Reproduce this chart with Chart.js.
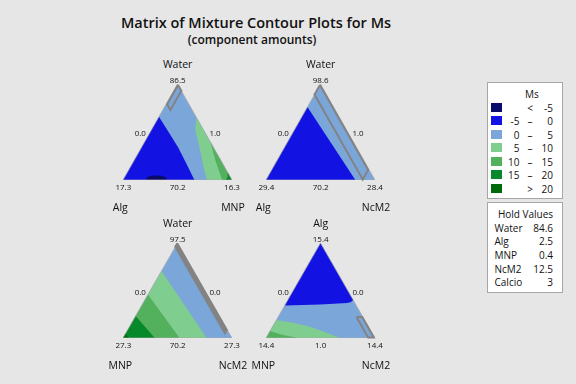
<!DOCTYPE html>
<html lang="en">
<head>
<meta charset="UTF-8">
<title>Matrix of Mixture Contour Plots for Ms</title>
<script src="https://cdn.jsdelivr.net/npm/chart.js"></script>
<style>
  html, body { margin: 0; padding: 0; }
  body { width: 576px; height: 384px; background: #e6e6e6; position: relative; overflow: hidden;
         font-family: 'Open Sans', sans-serif; color: #111; }
  .lbl { position: absolute; transform: translate(-50%, -50%); white-space: nowrap; line-height: 1; }
  .lft { position: absolute; transform: translate(0, -50%); white-space: nowrap; line-height: 1; }
  .rgt { position: absolute; transform: translate(-100%, -50%); white-space: nowrap; line-height: 1; }
  #title { font-size: 14.5px; font-weight: 600; }
  #subtitle { font-size: 12px; font-weight: 600; }
  .name { font-size: 10.5px; }
  .tick { font-size: 8px; }
  .box { position: absolute; background: #fff; border: 1px solid #a6a6a6; box-sizing: border-box; font-size: 10px; }
  .swatch { position: absolute; width: 11px; height: 9px; }
  canvas { position: absolute; }
</style>
</head>
<body>
<div class="lbl" id="title" style="left:256px; top:23px">Matrix of Mixture Contour Plots for Ms</div>
<div class="lbl" id="subtitle" style="left:252px; top:40px">(component amounts)</div>
<div class="box" id="legend" style="left:487px; top:82px; width:76px; height:117px"></div>
<div class="box" id="hold" style="left:487px; top:202px; width:76px; height:91px"></div>

<script>
// Ms classes
const classLow = ['', '-5', '0', '5', '10', '15', ''];
const classSep = ['<', '–', '–', '–', '–', '–', '>'];
const classHigh = ['-5', '0', '5', '10', '15', '20', '20'];
const classColors = ['#0b0b6c', '#1212e3', '#7ba6da', '#80cd90', '#53b15e', '#07892b', '#006a0b'];

// hold values
const holdNames = ['Water', 'Alg', 'MNP', 'NcM2', 'Calcio'];
const holdValues = ['84.6', '2.5', '0.4', '12.5', '3'];

// vertex names and tick labels, one entry per panel
const topNames = ['Water', 'Water', 'Water', 'Alg'];
const leftNames = ['Alg', 'Alg', 'MNP', 'MNP'];
const rightNames = ['MNP', 'NcM2', 'NcM2', 'NcM2'];
const topTicks = ['86.5', '98.6', '97.5', '15.4'];
const leftSideTicks = ['0.0', '0.0', '0.0', '0.0'];
const rightSideTicks = ['1.0', '1.0', '0.0', '0.0'];
const baseLeftTicks = ['17.3', '29.4', '27.3', '14.4'];
const baseMidTicks = ['70.2', '70.2', '70.2', '1.0'];
const baseRightTicks = ['16.3', '28.4', '27.3', '14.4'];

// contour regions, points are [top fraction, right fraction] of each triangle
// panel 1: Water / Alg / MNP
const p1Neg5 = [[0, 0.21], [0.03, 0.21], [0.045, 0.237], [0.048, 0.284], [0.045, 0.332], [0.03, 0.375], [0, 0.406]];
const p1Zero = [[0, 0], [0.66, 0], [0.5, 0.168], [0.34, 0.335], [0.17, 0.497], [0, 0.655]];
const p1Ten = [[0.653, 0.347], [0.515, 0.405], [0.343, 0.53], [0.137, 0.67], [0, 0.77], [0, 1]];
const p1Fifteen = [[0.395, 0.605], [0.206, 0.744], [0, 0.909], [0, 1]];
const p1Twenty = [[0.08, 0.92], [0.03, 0.945], [0, 0.94], [0, 1]];
const p1Box = [[0.99, 0.01], [0.93, 0.07], [0.73, 0.07], [0.79, 0.01], [0.99, 0.01]];
// panel 2: Water / Alg / NcM2
const p2Zero = [[0, 0], [0.76, 0], [0.38, 0.41], [0, 0.82]];
const p2Box = [[0.99, 0], [0.105, 0.885], [0.005, 0.885], [0.89, 0], [0.99, 0]];
// panel 3: Water / MNP / NcM2
const p3Ten = [[0, 0], [0.705, 0], [0, 0.768]];
const p3Fifteen = [[0, 0], [0.458, 0], [0, 0.519]];
const p3Twenty = [[0, 0], [0.232, 0], [0, 0.292]];
const p3Over = [[0, 0], [0.045, 0], [0, 0.05]];
const p3Box = [[0.995, 0], [0.085, 0.91], [0.05, 0.91], [0.96, 0], [0.995, 0]];
// panel 4: Alg / MNP / NcM2
const p4Zero = [[1, 0], [0.342, 0], [0.353, 0.32], [0.368, 0.56], [0.38, 0.59], [0.4, 0.6]];
const p4Ten = [[0, 0], [0.19, 0], [0.161, 0.17], [0.119, 0.344], [0.056, 0.529], [0, 0.679]];
const p4Fifteen = [[0, 0], [0.074, 0], [0.032, 0.14], [0, 0.296]];
const p4Box = [[0.22, 0.72], [0.22, 0.772], [0.005, 0.987], [0.005, 0.935], [0.22, 0.72]];

const wholeTriangle = [[0, 0], [0, 1], [1, 0]];

const panelRegions = [
  [[wholeTriangle, 2], [p1Zero, 1], [p1Neg5, 0], [p1Ten, 3], [p1Fifteen, 4], [p1Twenty, 5]],
  [[wholeTriangle, 2], [p2Zero, 1]],
  [[wholeTriangle, 2], [p3Ten, 3], [p3Fifteen, 4], [p3Twenty, 5], [p3Over, 6]],
  [[wholeTriangle, 2], [p4Zero, 1], [p4Ten, 3], [p4Fifteen, 4]]
];
const panelBoxes = [p1Box, p2Box, p3Box, p4Box];
const boxFilled = [false, false, true, false];

// where each triangle sits on the page
const panels = [
  { x: 123.3, base: 180, w: 108.7, h: 96 },
  { x: 266.3, base: 180, w: 108.7, h: 96 },
  { x: 123.3, base: 338, w: 108.7, h: 95 },
  { x: 266.3, base: 338, w: 108.7, h: 95 }
];
const PAD = 6;

function toPoint(p) {
  return { x: p[1] + p[0] / 2, y: p[0] };
}

function addText(parent, cls, text, left, top, extra) {
  const d = document.createElement('div');
  d.className = cls + (extra ? ' ' + extra : '');
  d.textContent = text;
  d.style.left = left + 'px';
  d.style.top = top + 'px';
  parent.appendChild(d);
  return d;
}

panels.forEach((pn, i) => {
  const canvas = document.createElement('canvas');
  const cw = Math.round(pn.w + 2 * PAD);
  const ch = Math.round(pn.h + 2 * PAD);
  canvas.width = cw;
  canvas.height = ch;
  canvas.style.left = (pn.x - PAD) + 'px';
  canvas.style.top = (pn.base - pn.h - PAD) + 'px';
  document.body.appendChild(canvas);

  const datasets = panelRegions[i].map(([pts, cls]) => ({
    data: pts.map(toPoint),
    showLine: true,
    fill: 'shape',
    backgroundColor: classColors[cls],
    borderWidth: 0,
    pointRadius: 0,
    tension: 0
  }));
  // triangle outline
  datasets.push({
    data: wholeTriangle.concat([wholeTriangle[0]]).map(toPoint),
    showLine: true, fill: false, borderColor: 'rgba(170,170,170,0.7)', borderWidth: 1,
    pointRadius: 0, tension: 0
  });
  // feasible region outline
  datasets.push({
    data: panelBoxes[i].map(toPoint),
    showLine: true,
    fill: boxFilled[i] ? 'shape' : false,
    backgroundColor: '#838383',
    borderColor: '#838383',
    borderWidth: 2,
    borderJoinStyle: 'miter',
    pointRadius: 0,
    tension: 0,
    clip: false
  });
  // first dataset drawn on top in Chart.js, so reverse
  datasets.reverse();

  new Chart(canvas, {
    type: 'line',
    data: { datasets },
    options: {
      responsive: false,
      animation: false,
      events: [],
      layout: { padding: PAD },
      plugins: { legend: { display: false }, tooltip: { enabled: false } },
      scales: {
        x: { type: 'linear', min: 0, max: 1, display: false },
        y: { type: 'linear', min: 0, max: 1, display: false }
      }
    }
  });

  const apexY = pn.base - pn.h;
  const cx = pn.x + pn.w / 2;
  addText(document.body, 'lbl', topNames[i], cx, apexY - 20, 'name');
  addText(document.body, 'lbl', topTicks[i], cx, apexY - 4, 'tick');
  addText(document.body, 'lbl', leftSideTicks[i], pn.x + 17, apexY + 49, 'tick');
  addText(document.body, 'lbl', rightSideTicks[i], pn.x + pn.w - 17, apexY + 49, 'tick');
  addText(document.body, 'lbl', baseLeftTicks[i], pn.x, pn.base + 7, 'tick');
  addText(document.body, 'lbl', baseMidTicks[i], cx, pn.base + 7, 'tick');
  addText(document.body, 'lbl', baseRightTicks[i], pn.x + pn.w, pn.base + 7, 'tick');
  addText(document.body, 'lbl', leftNames[i], pn.x - 3, pn.base + 27, 'name');
  addText(document.body, 'lbl', rightNames[i], pn.x + pn.w + 1, pn.base + 27, 'name');
});

// legend for Ms classes
const legend = document.getElementById('legend');
addText(legend, 'lbl', 'Ms', 44, 11);
classColors.forEach((c, k) => {
  const y = 24.5 + k * 13.5;
  const sw = document.createElement('div');
  sw.className = 'swatch';
  sw.style.background = c;
  sw.style.left = '3px';
  sw.style.top = (y - 5) + 'px';
  legend.appendChild(sw);
  if (classLow[k]) addText(legend, 'rgt', classLow[k], 31.5, y);
  addText(legend, 'lbl', classSep[k], 42, y);
  addText(legend, 'rgt', classHigh[k], 65, y);
});

// hold values
const hold = document.getElementById('hold');
addText(hold, 'lbl', 'Hold Values', 37.5, 11);
holdNames.forEach((n, k) => {
  const y = 24.5 + k * 13.7;
  addText(hold, 'lft', n, 6.5, y);
  addText(hold, 'rgt', holdValues[k], 65, y);
});
</script>
</body>
</html>
